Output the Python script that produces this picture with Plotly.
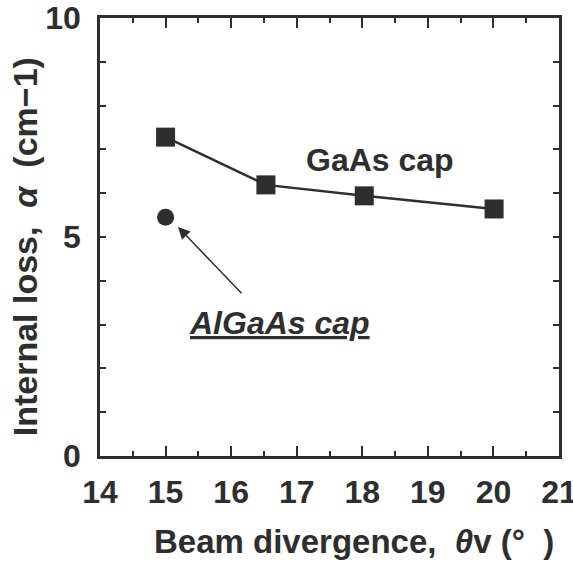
import plotly.graph_objects as go

# Data
gaas_x = [15.0, 16.53, 18.03, 20.01]
gaas_y = [7.28, 6.19, 5.94, 5.64]
algaas_x = [15.0]
algaas_y = [5.45]
x_ticks = [14, 15, 16, 17, 18, 19, 20, 21]
y_ticks = [0, 5, 10]

ink = "#2e2e2e"
font_family = "Liberation Sans, Arial, sans-serif"

fig = go.Figure()
fig.add_trace(go.Scatter(
    x=gaas_x, y=gaas_y, mode="lines+markers",
    line=dict(color=ink, width=2.5),
    marker=dict(symbol="square", size=19, color=ink),
    showlegend=False, cliponaxis=False))
fig.add_trace(go.Scatter(
    x=algaas_x, y=algaas_y, mode="markers",
    marker=dict(symbol="circle", size=17, color=ink),
    showlegend=False, cliponaxis=False))

axis_common = dict(
    showline=True, linecolor=ink, linewidth=2.5, mirror="ticks",
    ticks="inside", tickcolor=ink, tickwidth=2, showgrid=False, zeroline=False,
    tickfont=dict(family=font_family, size=32, color=ink, weight="bold"),
    automargin=False, ticklabeloverflow="allow",
)

fig.update_xaxes(range=[14, 21], tickvals=x_ticks, ticktext=[str(v) for v in x_ticks],
                 ticklen=10, ticklabelstandoff=6,
                 minor=dict(dtick=0.5, ticks="inside", ticklen=5, tickcolor=ink, tickwidth=2, showgrid=False),
                 **axis_common)
fig.update_yaxes(range=[0, 10], tickvals=y_ticks, ticktext=[str(v) for v in y_ticks],
                 ticklen=6, ticklabelstandoff=10,
                 minor=dict(dtick=1, ticks="inside", ticklen=6, tickcolor=ink, tickwidth=2, showgrid=False),
                 **axis_common)

ann_font = dict(family=font_family, size=32, color=ink, weight="bold")
fig.add_annotation(x=18.27, y=6.76, text="GaAs cap", showarrow=False,
                   font=ann_font)
fig.add_annotation(x=16.74, y=3.04, text="AlGaAs cap", showarrow=False,
                   font=dict(family=font_family, size=32, color=ink, weight="bold",
                             style="italic", lineposition="under"))
fig.add_annotation(x=15.19, y=5.23, ax=16.18, ay=3.68, axref="x", ayref="y",
                   text="", showarrow=True, arrowhead=2, arrowsize=1.6,
                   arrowwidth=1.5, arrowcolor=ink)
fig.add_annotation(xref="paper", yref="paper", x=0.553, y=-0.196,
                   text="Beam divergence,  <i>θ</i>v (°  )", showarrow=False,
                   xanchor="center", yanchor="middle",
                   font=dict(family=font_family, size=33, color=ink, weight="bold"))
fig.add_annotation(xref="paper", yref="paper", x=-0.163, y=0.477,
                   text="Internal loss,  <i>α</i>  (cm−1)", showarrow=False,
                   textangle=-90, xanchor="center", yanchor="middle",
                   font=dict(family=font_family, size=34, color=ink, weight="bold"))

fig.update_layout(
    width=573, height=561,
    margin=dict(l=100, r=14, t=18, b=105),
    plot_bgcolor="white", paper_bgcolor="white",
)

fig.write_html(
    "out.html",
    config={"displayModeBar": False},
    post_script="document.body.style.margin='0';document.body.style.overflow='hidden';",
)
